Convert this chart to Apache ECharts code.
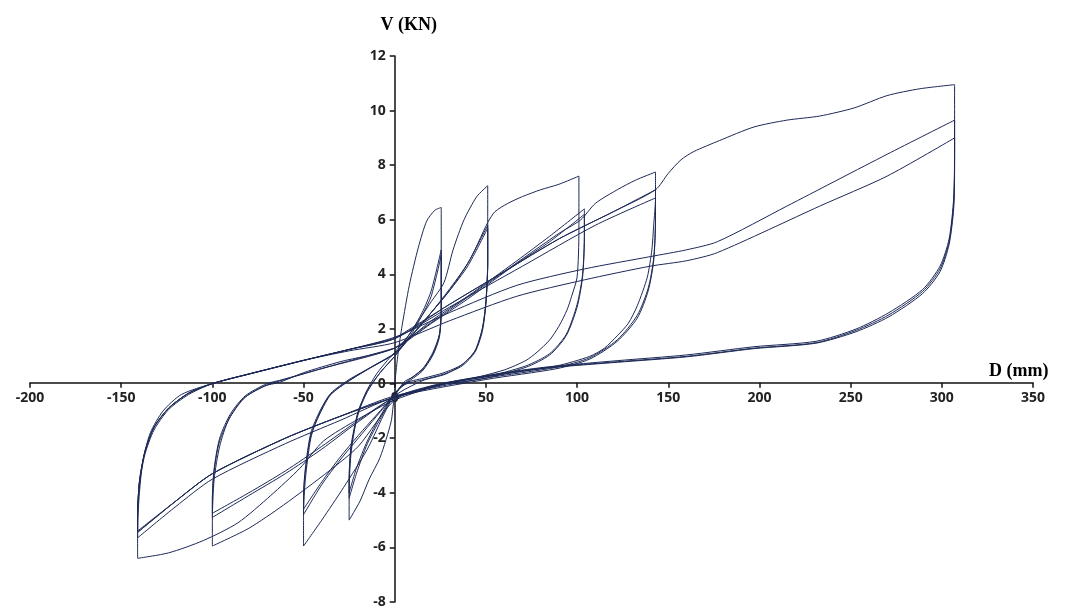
<!DOCTYPE html>
<html>
<head>
    <meta charset="utf-8">
    <script src="https://cdn.jsdelivr.net/npm/echarts@6/dist/echarts.min.js"></script>
</head>
<body style="margin:0">

    <div id="main" style="width: 1079px;height:609px;position:absolute"></div>

<script type="text/javascript">
// hysteresis loops, one array per displacement amplitude: [D (mm), V (KN)]
var loop25 = [
    [0,0],[2,1.2],[4,2.1],[8,3.6],[13,5.0],[17.5,5.95],[22,6.35],[25.5,6.45],
    [25.5,2.7],[24.5,1.8],[21,1.15],[16,0.6],[10,0.25],[5,0.05],[0,-0.5],
    [-2,-1.4],[-8,-2.7],[-14,-3.5],[-19,-4.3],[-25,-5.0],
    [-25,-4.0],[-24,-2.6],[-21,-1.3],[-16,-0.35],[-10,0.35],[-4,0.85],[0,1.15],
    [8,1.8],[15,2.6],[20,3.4],[25.5,4.9],
    [25.5,2.8],[24.5,1.8],[21,1.1],[15,0.5],[8,0.15],[0,-0.35],
    [-8,-1.3],[-15,-2.2],[-21,-3.3],[-25,-4.2],
    [-25,-3.6],[-24,-2.4],[-20,-1.1],[-15,-0.3],[-8,0.4],[0,1.0],
    [8,1.7],[15,2.5],[20,3.2],[25.5,4.7],
    [25.5,2.7],[24.5,1.7],[21,1.05],[15,0.45],[8,0.1],[0,-0.35],
    [-8,-1.2],[-15,-2.1],[-21,-3.1],[-25,-4.0],
    [-25,-3.5],[-24,-2.3],[-20,-1.0],[-15,-0.25],[-8,0.4],[0,1.0]
];
var loop50 = [
    [0,1.0],[10,2.0],[20,3.0],[27,3.7],[32,4.9],[38,6.0],[45,6.85],[51,7.25],
    [51,4.5],[50,3.0],[48,2.0],[44,1.2],[37,0.7],[28,0.35],[15,0.1],[0,-0.45],
    [-5,-1.0],[-15,-2.4],[-28,-3.8],[-40,-5.0],[-50,-5.95],
    [-50,-4.8],[-49,-3.5],[-46,-2.0],[-42,-1.2],[-36,-0.45],[-26,0.07],[-14,0.55],[0,1.1],
    [10,1.8],[20,2.6],[30,3.4],[40,4.4],[51,5.8],
    [51,4.5],[50,3.0],[48,2.0],[44,1.2],[37,0.7],[27,0.4],[16,0.2],[5,0],[0,-0.4],
    [-10,-1.2],[-20,-2.0],[-30,-2.8],[-40,-3.7],[-50,-4.8],
    [-50,-4.2],[-49,-3.2],[-46,-1.9],[-41,-1.1],[-35,-0.4],[-25,0.1],[-13,0.6],[0,1.1],
    [10,1.8],[20,2.6],[30,3.4],[40,4.3],[51,5.7],
    [51,4.4],[50,2.9],[48,1.9],[44,1.15],[37,0.65],[27,0.35],[16,0.15],[5,-0.05],[0,-0.4],
    [-10,-1.15],[-20,-1.9],[-30,-2.7],[-40,-3.6],[-50,-4.6],
    [-50,-4.1],[-49,-3.1],[-46,-1.8],[-41,-1.0],[-35,-0.35],[-25,0.15],[-13,0.6],[0,1.1]
];
var loop100 = [
    [0,1.1],[20,2.6],[40,4.4],[51,5.9],[55,6.3],[62,6.6],[70,6.85],[80,7.1],[90,7.3],[101,7.6],
    [101,5.6],[100,3.9],[97,3.2],[94.5,2.7],[90,2.1],[85,1.6],[78,1.15],[72,0.85],[60,0.5],[40,0.15],[20,-0.1],[0,-0.6],
    [-20,-2.3],[-36,-3.2],[-61,-4.45],[-80,-5.3],[-100,-5.95],
    [-100,-5.0],[-99,-3.5],[-96,-2.3],[-91,-1.3],[-83,-0.55],[-72,-0.1],[-63,0.05],[-50,0.4],[-30,0.8],[0,1.3],
    [20,2.3],[40,3.2],[67,4.5],[85,5.4],[104,6.4],
    [104,5.5],[103,4.0],[100,2.9],[94,1.8],[85,1.1],[72,0.65],[50,0.25],[25,0],[0,-0.5],
    [-20,-1.4],[-40,-2.4],[-60,-3.3],[-80,-4.1],[-100,-4.9],
    [-100,-4.3],[-99,-3.2],[-96,-2.1],[-90,-1.2],[-82,-0.5],[-70,-0.05],[-63,0.1],[-40,0.55],[0,1.3],
    [20,2.2],[40,3.1],[67,4.4],[85,5.2],[104,6.2],
    [104,5.3],[103,3.9],[100,2.8],[94,1.75],[85,1.05],[72,0.6],[50,0.2],[25,-0.05],[0,-0.5],
    [-20,-1.35],[-40,-2.3],[-60,-3.2],[-80,-4.0],[-100,-4.75],
    [-100,-4.2],[-99,-3.1],[-96,-2.0],[-90,-1.1],[-82,-0.45],[-70,0],[-63,0.12],[-40,0.55],[0,1.3]
];
var loop140 = [
    [0,1.3],[30,2.7],[60,4.1],[90,5.5],[102,6.0],[110,6.6],[122,7.1],[132,7.45],[143,7.75],
    [143,6.8],[142,5.8],[141,4.9],[138.5,3.9],[133,2.85],[128,2.2],[122,1.75],[115,1.3],[107,1.0],[89,0.65],[60,0.35],[30,0.05],[0,-0.6],
    [-20,-1.3],[-39,-2.1],[-52,-3.1],[-68,-4.1],[-86,-5.1],[-105,-5.75],[-124,-6.2],[-141,-6.4],
    [-141,-5.3],[-140,-4.0],[-138,-2.8],[-134,-1.8],[-127,-1.0],[-117,-0.4],[-100,0],[-80,0.35],[-50,0.85],[-25,1.25],[0,1.65],
    [30,2.9],[60,4.1],[90,5.3],[120,6.3],[143,7.1],
    [143,6.1],[142,4.6],[139,3.5],[133,2.5],[122,1.6],[107,0.95],[89,0.6],[50,0.2],[0,-0.45],
    [-30,-1.2],[-60,-2.0],[-100,-3.3],[-120,-4.3],[-141,-5.4],
    [-141,-4.8],[-140,-3.6],[-137,-2.5],[-132,-1.6],[-124,-0.9],[-113,-0.35],[-100,0],[-80,0.35],[-50,0.85],[-25,1.25],[0,1.65],
    [30,2.8],[70,4.3],[110,5.8],[143,6.8],
    [143,6.0],[142,4.5],[139,3.4],[133,2.4],[122,1.55],[107,0.9],[89,0.55],[50,0.15],[0,-0.5],
    [-30,-1.35],[-60,-2.2],[-100,-3.5],[-120,-4.5],[-141,-5.65],
    [-141,-5.0],[-140,-3.7],[-137,-2.6],[-132,-1.7],[-124,-0.95],[-113,-0.4],[-100,0],[-80,0.35],[-50,0.85],[-25,1.25],[0,1.65]
];
var loop305 = [
    [0,1.65],[30,2.9],[60,4.1],[90,5.3],[120,6.3],[143,7.1],[150,7.7],[157,8.2],[164,8.5],[178,8.9],[197,9.4],[215,9.65],[233,9.8],[252,10.1],[270,10.55],[288,10.8],[307,10.95],
    [307,8.7],[306.5,6.8],[304,5.3],[299,4.3],[289.5,3.45],[271,2.6],[253,2.0],[231,1.55],[197,1.35],[160,1.05],[122,0.84],[85,0.62],[60,0.4],[30,0.05],[0,-0.5],
    [-30,-1.2],[-60,-2.0],[-100,-3.3],[-120,-4.3],[-141,-5.45],
    [-141,-4.9],[-140,-3.6],[-137,-2.5],[-132,-1.6],[-124,-0.9],[-113,-0.35],[-100,0],[-80,0.35],[-50,0.85],[-25,1.25],[0,1.7],
    [30,2.6],[67,3.6],[104,4.2],[140,4.65],[160,4.9],[177,5.2],[215,6.5],[270,8.4],[307,9.65],
    [307,8.2],[306.5,6.6],[304,5.2],[299,4.2],[289.5,3.38],[271,2.52],[253,1.95],[231,1.5],[197,1.3],[160,1.0],[122,0.8],[85,0.6],[60,0.38],[30,0.03],[0,-0.5],
    [-30,-1.2],[-60,-2.0],[-100,-3.3],[-120,-4.3],[-141,-5.45],
    [-141,-4.9],[-140,-3.6],[-137,-2.5],[-132,-1.6],[-124,-0.9],[-113,-0.35],[-100,0],[-80,0.35],[-50,0.85],[-25,1.2],[0,1.5],
    [30,2.3],[67,3.2],[104,3.8],[140,4.3],[160,4.5],[177,4.8],[233,6.5],[270,7.6],[307,9.0],
    [307,7.8],[306.5,6.4],[304,5.1],[299,4.1],[289.5,3.3],[271,2.45],[253,1.9],[231,1.48],[197,1.28],[160,0.98],[122,0.78],[85,0.58],[60,0.36],[30,0.02],[0,-0.5]
];

var loops = [loop25, loop50, loop100, loop140, loop305];

var xRange = [-200, 350];
var yRange = [-8, 12];

var W = 1079, H = 609;
var grid = {left: 30, right: 46, top: 56, bottom: 5};
// axes cross at the origin, so shift each axis from the grid edge to zero
var xShift = (0 - yRange[0]) / (yRange[1] - yRange[0]) * (H - grid.top - grid.bottom);
var yShift = (0 - xRange[0]) / (xRange[1] - xRange[0]) * (W - grid.left - grid.right);

var lineColor = '#1c2856';
var labelFont = {fontFamily: 'Open Sans', fontWeight: 'bold', fontSize: 14, color: '#222'};

var myChart = echarts.init(document.getElementById('main'));

myChart.setOption({
    animation: false,
    grid: grid,
    xAxis: {
        type: 'value',
        min: xRange[0], max: xRange[1], interval: 50,
        offset: -xShift,
        name: 'D (mm)',
        nameLocation: 'end',
        nameGap: -44,
        nameTextStyle: {fontFamily: 'Liberation Serif', fontWeight: 'bold', fontSize: 18, color: '#000',
                        verticalAlign: 'bottom', padding: [0, 0, 2, 0]},
        axisLine: {onZero: false, lineStyle: {color: '#111', width: 1.5}},
        axisTick: {length: 5, lineStyle: {color: '#111', width: 1.5}},
        axisLabel: Object.assign({margin: 8}, labelFont),
        splitLine: {show: false}
    },
    yAxis: {
        type: 'value',
        min: yRange[0], max: yRange[1], interval: 2,
        offset: -yShift,
        name: 'V (KN)',
        nameLocation: 'end',
        nameGap: 22,
        nameTextStyle: {fontFamily: 'Liberation Serif', fontWeight: 'bold', fontSize: 18, color: '#000',
                        padding: [0, 0, 0, 28]},
        axisLine: {onZero: false, lineStyle: {color: '#111', width: 1.5}},
        axisTick: {length: 5, lineStyle: {color: '#111', width: 1.5}},
        axisLabel: Object.assign({margin: 9}, labelFont),
        splitLine: {show: false}
    },
    series: loops.map(function (d) {
        return {
            type: 'line',
            data: d,
            showSymbol: false,
            smooth: 0.25,
            lineStyle: {color: lineColor, width: 1}
        };
    })
});
</script>

</body>
</html>
